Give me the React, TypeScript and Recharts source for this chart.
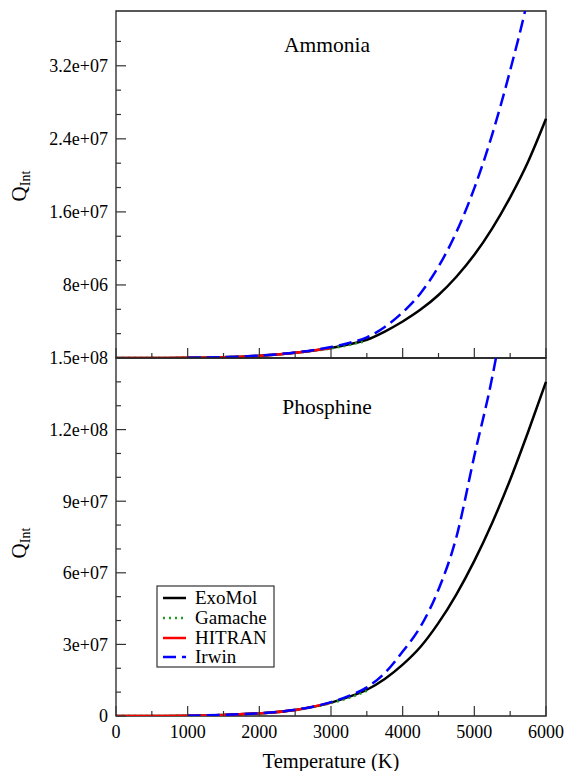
import { LineChart, Line, XAxis, YAxis, ReferenceArea } from "recharts";

const FONT = "'Liberation Serif', 'DejaVu Serif', serif";

// temperature grid (K)
const temps = [0, 500, 1000, 1500, 2000, 2500, 3000, 3250, 3500, 3750, 4000, 4250, 4500, 4750, 5000, 5250, 5500, 5750, 6000];

// Ammonia
const nh3ExoMol = [1, 4e3, 2.5e4, 9e4, 2.5e5, 5.8e5, 1.1e6, 1.5e6, 2.0e6, 2.9e6, 4.0e6, 5.3e6, 6.9e6, 8.9e6, 1.13e7, 1.42e7, 1.76e7, 2.15e7, 2.62e7];
const nh3Gamache = [1, 4e3, 2.5e4, 9e4, 2.5e5, 5.7e5, 1.05e6, 1.42e6, 1.9e6, null, null, null, null, null, null, null, null, null, null];
const nh3Hitran = [1, 4e3, 2.5e4, 9e4, 2.5e5, 5.8e5, 1.1e6, null, null, null, null, null, null, null, null, null, null, null, null];
const nh3Irwin = [null, null, 2.6e4, 9.5e4, 2.6e5, 6.0e5, 1.2e6, 1.65e6, 2.25e6, 3.4e6, 5.0e6, 7.1e6, 1.0e7, 1.38e7, 1.86e7, 2.45e7, 3.15e7, 3.95e7, 5.0e7];

// Phosphine
const ph3ExoMol = [1, 1e4, 1.1e5, 4.5e5, 1.1e6, 2.5e6, 5.6e6, 8.0e6, 1.1e7, 1.55e7, 2.15e7, 2.9e7, 3.9e7, 5.1e7, 6.5e7, 8.1e7, 9.9e7, 1.19e8, 1.4e8];
const ph3Gamache = [1, 1e4, 1.1e5, 4.5e5, 1.1e6, 2.5e6, 5.4e6, 7.6e6, 1.05e7, null, null, null, null, null, null, null, null, null, null];
const ph3Hitran = [1, 1e4, 1.1e5, 4.5e5, 1.1e6, 2.5e6, 5.6e6, null, null, null, null, null, null, null, null, null, null, null, null];
const ph3Irwin = [null, null, 1.1e5, 4.6e5, 1.15e6, 2.6e6, 5.8e6, 8.4e6, 1.2e7, 1.8e7, 2.7e7, 3.75e7, 5.3e7, 7.5e7, 1.09e8, 1.42e8, 1.85e8, 2.4e8, 3.0e8];

// axes
const xTicks = [0, 500, 1000, 1500, 2000, 2500, 3000, 3500, 4000, 4500, 5000, 5500, 6000];
const xLabels = ["0", "1000", "2000", "3000", "4000", "5000", "6000"];

const topYMax = 3.8e7;
const topYTicks = Array.from({ length: 14 }, (_, i) => (i * 8e6) / 3);
const topYLabels = ["", "8e+06", "1.6e+07", "2.4e+07", "3.2e+07"];

const botYMax = 1.5e8;
const botYTicks = Array.from({ length: 16 }, (_, i) => i * 1e7);
const botYLabels = ["0", "3e+07", "6e+07", "9e+07", "1.2e+08", "1.5e+08"];

const SERIES = [
  { key: "exomol", name: "ExoMol", color: "#000000", dash: undefined as string | undefined },
  { key: "gamache", name: "Gamache", color: "#1f9d1f", dash: "2 4" },
  { key: "hitran", name: "HITRAN", color: "#ff0000", dash: undefined },
  { key: "irwin", name: "Irwin", color: "#0000ff", dash: "13 6" },
];

const build = (a: (number | null)[], b: (number | null)[], c: (number | null)[], d: (number | null)[]) =>
  temps.map((t, i) => ({ T: t, exomol: a[i], gamache: b[i], hitran: c[i], irwin: d[i] }));

const nh3Data = build(nh3ExoMol, nh3Gamache, nh3Hitran, nh3Irwin);
const ph3Data = build(ph3ExoMol, ph3Gamache, ph3Hitran, ph3Irwin);

const textStyle = { fontFamily: FONT };

function XTick(props: any) {
  const { x, y, index, showLabel } = props;
  const major = index % 2 === 0;
  return (
    <g>
      <line x1={x} x2={x} y1={y} y2={y - (major ? 10 : 5)} stroke="#333" strokeWidth={1.2} />
      {showLabel && major && (
        <text x={x} y={y + 22} textAnchor="middle" style={textStyle} fontSize={18} fill="#000">
          {xLabels[index / 2]}
        </text>
      )}
    </g>
  );
}

function YTick(props: any) {
  const { x, y, index, labels } = props;
  const major = index % 3 === 0;
  const label = major ? labels[index / 3] : "";
  return (
    <g>
      <line x1={x} x2={x + (major ? 10 : 5)} y1={y} y2={y} stroke="#333" strokeWidth={1.2} />
      {label && (
        <text x={x - 8} y={y} dy="0.35em" textAnchor="end" style={textStyle} fontSize={18} fill="#000">
          {label}
        </text>
      )}
    </g>
  );
}

function Panel({
  data,
  height,
  margin,
  xHeight,
  yMax,
  yTicks,
  yLabels,
  showX,
}: {
  data: Record<string, number | null>[];
  height: number;
  margin: { top: number; right: number; left: number; bottom: number };
  xHeight: number;
  yMax: number;
  yTicks: number[];
  yLabels: string[];
  showX: boolean;
}) {
  return (
    <div style={{ position: "absolute", left: 0, top: 0 }}>
      <LineChart width={565} height={height} data={data} margin={margin}>
        <XAxis
          dataKey="T"
          type="number"
          domain={[0, 6000]}
          ticks={xTicks}
          interval={0}
          height={xHeight}
          axisLine={false}
          tickLine={false}
          tickSize={0}
          tickMargin={0}
          tick={(p: any) => <XTick {...p} showLabel={showX} />}
        />
        <YAxis
          type="number"
          domain={[0, yMax]}
          allowDataOverflow
          ticks={yTicks}
          interval={0}
          width={60}
          axisLine={false}
          tickLine={false}
          tickSize={0}
          tickMargin={0}
          tick={(p: any) => <YTick {...p} labels={yLabels} />}
        />
        <ReferenceArea x1={0} x2={6000} y1={0} y2={yMax} fill="none" stroke="#222" strokeWidth={1.3} />
        {SERIES.map((s) => (
          <Line
            key={s.key}
            dataKey={s.key}
            name={s.name}
            type="monotone"
            stroke={s.color}
            strokeWidth={2.5}
            strokeDasharray={s.dash}
            dot={false}
            connectNulls={false}
            isAnimationActive={false}
          />
        ))}
      </LineChart>
    </div>
  );
}

function QLabel({ cy }: { cy: number }) {
  return (
    <text
      x={26}
      y={cy}
      transform={`rotate(-90 26 ${cy})`}
      textAnchor="middle"
      style={textStyle}
      fontSize={21}
      fill="#000"
    >
      Q<tspan fontSize={14} dy={4}>Int</tspan>
    </text>
  );
}

export default function App() {
  const rows = [598, 618, 638, 657];
  return (
    <div
      style={{
        position: "absolute",
        left: 0,
        top: 0,
        width: 565,
        height: 771,
        background: "#fff",
        fontFamily: FONT,
      }}
    >
      <Panel
        data={nh3Data}
        height={368}
        margin={{ top: 11, right: 19, left: 56, bottom: 0 }}
        xHeight={10}
        yMax={topYMax}
        yTicks={topYTicks}
        yLabels={topYLabels}
        showX={false}
      />
      <Panel
        data={ph3Data}
        height={771}
        margin={{ top: 358, right: 19, left: 56, bottom: 0 }}
        xHeight={55}
        yMax={botYMax}
        yTicks={botYTicks}
        yLabels={botYLabels}
        showX
      />
      <svg width={565} height={771} style={{ position: "absolute", left: 0, top: 0, pointerEvents: "none" }}>
        <text x={327} y={52} textAnchor="middle" style={textStyle} fontSize={21.5}>
          Ammonia
        </text>
        <text x={327} y={414} textAnchor="middle" style={textStyle} fontSize={21.5}>
          Phosphine
        </text>
        <QLabel cy={186} />
        <QLabel cy={543} />
        <text x={331} y={768} textAnchor="middle" style={textStyle} fontSize={20.5}>
          Temperature (K)
        </text>
        <rect x={157} y={586} width={117} height={81} fill="#fff" stroke="#333" strokeWidth={1.2} />
        {SERIES.map((s, i) => (
          <g key={s.key}>
            <line
              x1={163}
              x2={186}
              y1={rows[i]}
              y2={rows[i]}
              stroke={s.color}
              strokeWidth={2.5}
              strokeDasharray={s.dash}
            />
            <text x={195} y={rows[i] + 6} style={textStyle} fontSize={19}>
              {s.name}
            </text>
          </g>
        ))}
      </svg>
    </div>
  );
}
